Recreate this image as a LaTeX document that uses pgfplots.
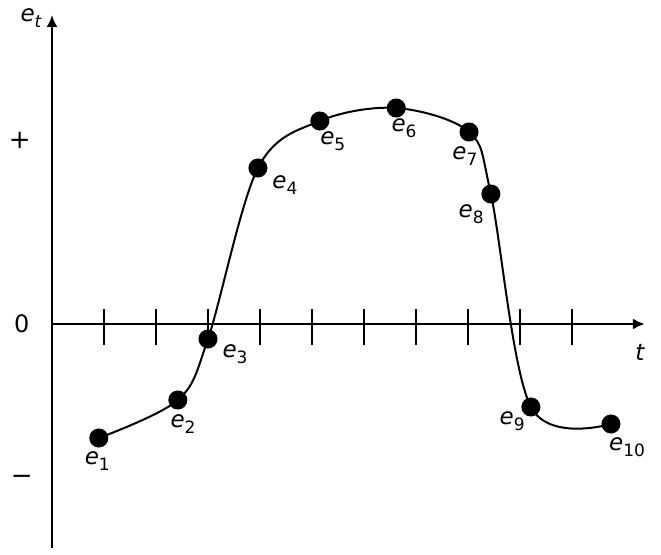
\documentclass[border=0pt]{standalone}
\usepackage{pgfplots}
\pgfplotsset{compat=1.18}
\usepackage{fontspec}
\setmainfont{DejaVu Sans}
\usetikzlibrary{arrows.meta}

% point label e_k: oblique e with a lowered upright index
\newcommand{\elab}[1]{\fontsize{23}{26}\selectfont\textit{e}\raisebox{-6pt}{\fontsize{17}{20}\selectfont #1}}

\begin{document}
\begin{tikzpicture}
\begin{axis}[
  x=52pt, y=1pt,
  xmin=0, xmax=11.4,
  ymin=-224, ymax=309,
  axis lines=middle,
  axis line style={line width=2.2pt, -{Latex[length=12pt,width=11pt]}},
  xtick={1,2,3,4,5,6,7,8,9,10},
  xticklabels={},
  ytick=\empty,
  tick align=center,
  major tick length=36pt,
  xtick style={line width=2pt, black, yshift=-3pt},
  clip=false,
]
% measured samples e_1 ... e_10
\addplot[black, line width=2pt, smooth, tension=0.55,
  mark=*, mark size=8.5pt, mark options={fill=black}]
  coordinates {
    (0.90,-114) (2.42,-76) (3.00,-15) (3.96,156) (5.15,203)
    (6.62,216) (8.02,192) (8.44,130) (9.21,-83) (10.75,-100)
  };

% sample labels
\node at (axis cs:0.87,-137) {\elab{1}};
\node at (axis cs:2.52,-100) {\elab{2}};
\node at (axis cs:3.52,-30) {\elab{3}};
\node at (axis cs:4.48,139) {\elab{4}};
\node at (axis cs:5.40,183) {\elab{5}};
\node at (axis cs:6.77,196) {\elab{6}};
\node at (axis cs:7.94,168) {\elab{7}};
\node at (axis cs:8.06,110) {\elab{8}};
\node at (axis cs:8.85,-97) {\elab{9}};
\node at (axis cs:11.06,-123) {\elab{10}};

% axis names
\node at (axis cs:-0.40,306) {\fontsize{23}{26}\selectfont\textit{e}\raisebox{-6pt}{\fontsize{17}{20}\selectfont\textit{t}}};
\node at (axis cs:11.31,-28) {\fontsize{23}{26}\selectfont\textit{t}};

% level labels on the e_t axis
\node at (axis cs:-0.62,184) {\fontsize{26}{30}\selectfont +};
\node at (axis cs:-0.58,0) {\fontsize{24}{28}\selectfont 0};
\node at (axis cs:-0.58,-156) {\fontsize{26}{30}\selectfont −};
\end{axis}
\pgfresetboundingbox
\useasboundingbox (-52pt,-6pt) rectangle (609pt,548pt);
\end{tikzpicture}
\end{document}
